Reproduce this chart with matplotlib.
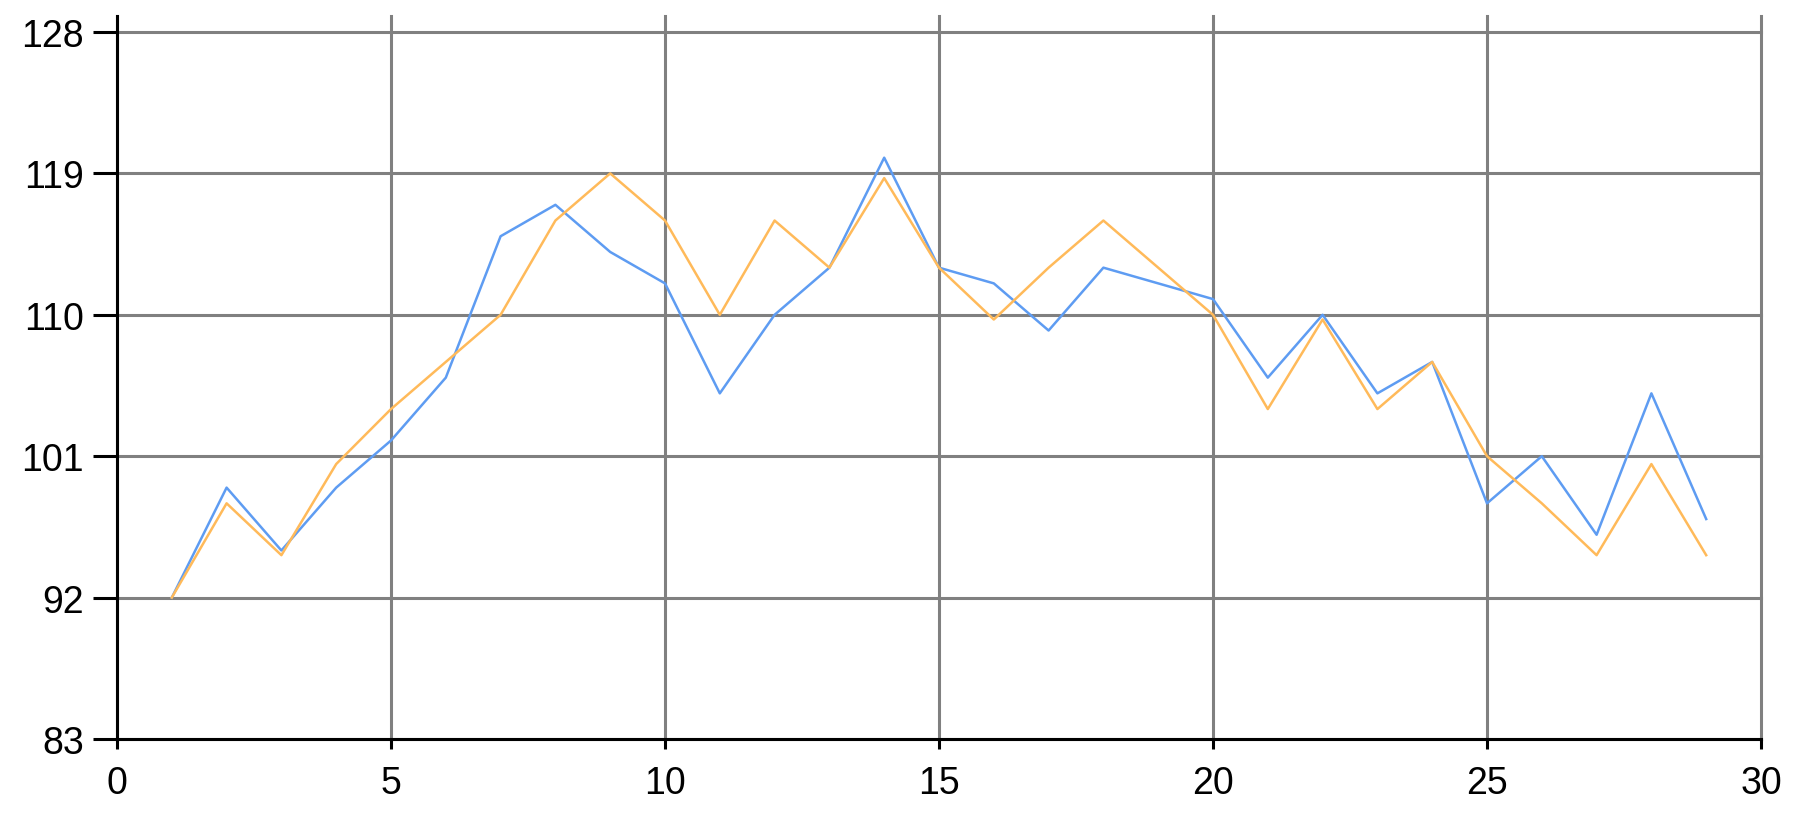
import numpy as np
import matplotlib
matplotlib.use("Agg")
import matplotlib.pyplot as plt

# ---------- Data ----------
x_vals = list(range(1, 30))
blue_vals = [92, 99, 95, 99, 102, 106, 115, 117, 114, 112,
             105, 110, 113, 120, 113, 112, 109, 113, 112, 111,
             106, 110, 105, 107, 98, 101, 96, 105, 97]
orange_vals = [92, 98, 94.7, 100.5, 104, 107, 110, 116, 119, 116,
               110, 116, 113, 118.7, 113, 109.7, 113, 116, 113, 110,
               104, 109.7, 104, 107, 101, 98, 94.7, 100.5, 94.7]
x_ticks = [0, 5, 10, 15, 20, 25, 30]
y_ticks = [83, 92, 101, 110, 119, 128]

# ---------- Figure ----------
W, H, DPI = 1820, 828, 100
fig = plt.figure(figsize=(W / DPI, H / DPI), dpi=DPI)
left, right, top, bottom = 117, 1761, 17, 740
ax = fig.add_axes([left / W, 1 - bottom / H, (right - left) / W, (bottom - top) / H])

ax.plot(x_vals, blue_vals, color="#5E9CF2", linewidth=1.8, zorder=3)
ax.plot(x_vals, orange_vals, color="#FFBA5A", linewidth=1.8, zorder=4)

ax.set_xlim(0, 30)
ax.set_ylim(83, 83 + 45 * (bottom - top) / (bottom - 33))
ax.set_xticks(x_ticks)
ax.set_yticks(y_ticks)

ax.grid(True, color="#808080", linewidth=2.2, zorder=1)
ax.set_axisbelow(True)
for gl in ax.get_xgridlines() + ax.get_ygridlines():
    gl.set_clip_on(False)

for side in ["top", "right"]:
    ax.spines[side].set_visible(False)
for side in ["left", "bottom"]:
    ax.spines[side].set_color("black")
    ax.spines[side].set_linewidth(2.2)

ax.tick_params(axis="y", direction="out", length=17, width=2.2, color="black", pad=7,
               labelsize=27, labelcolor="black")
ax.tick_params(axis="x", direction="out", length=7, width=2.2, color="black", pad=12,
               labelsize=27, labelcolor="black")
for lab in ax.get_xticklabels() + ax.get_yticklabels():
    lab.set_fontfamily("Liberation Sans")

fig.savefig("out.png", dpi=DPI, facecolor="white")
